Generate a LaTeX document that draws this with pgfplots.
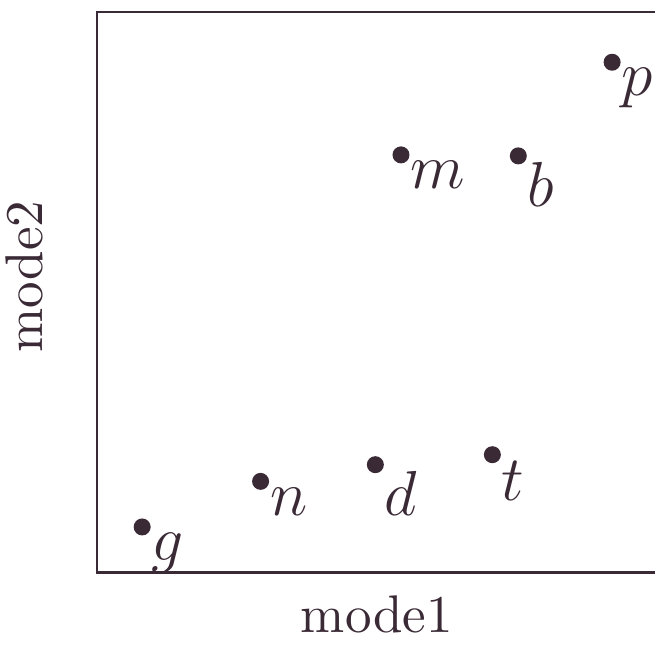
\documentclass[border=0pt]{standalone}
\usepackage{pgfplots}
\pgfplotsset{compat=1.18}
\usetikzlibrary{calc}
\definecolor{ink}{RGB}{58,42,54}
\begin{document}
\begin{tikzpicture}
\begin{axis}[
  name=ax,
  scale only axis,
  width=106pt, height=105.8pt,
  xmin=97, xmax=660, ymin=72, ymax=633,
  xtick=\empty, ytick=\empty,
  axis line style={ink, line width=0.45pt},
  xlabel={mode1}, ylabel={mode2},
  label style={text=ink},
  xlabel style={at={(axis description cs:0.498,0)}, anchor=base, yshift=-11.3pt},
  ylabel style={at={(axis description cs:0,0.528)}, anchor=base, yshift=10.2pt},
  clip=false,
]
\addplot[only marks, mark=*, mark size=1.4pt, color=ink,
  point meta=explicit symbolic,
  nodes near coords={$\pgfplotspointmeta$},
  nodes near coords style={anchor=north west, inner sep=0pt, font=\large, text=ink, xshift=1.6pt, yshift=-1pt},
] table[meta=label] {
x y label
142.3 117.7 g
261.0 163.3 n
376.0 180.0 d
493.3 190.0 t
401.7 490.0 m
519.3 489.0 b
613.3 582.7 p
};
\end{axis}
\pgfresetboundingbox
\path ($(ax.south west)+(-18.3pt,-13.6pt)$) rectangle ($(ax.north west)+(105.3pt,2.26pt)$);
\end{tikzpicture}
\end{document}
